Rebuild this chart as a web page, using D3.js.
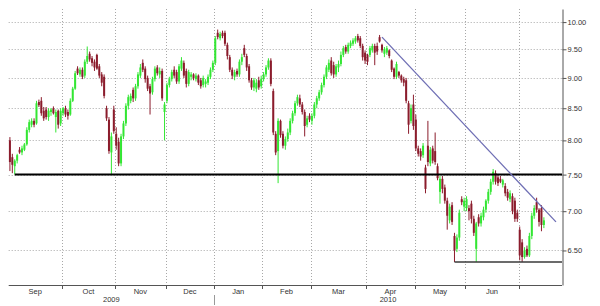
<!DOCTYPE html>
<html><head><meta charset="utf-8">
<script src="https://cdn.jsdelivr.net/npm/d3@7"></script>
<style>
html,body{margin:0;padding:0;background:#fff;}
svg{display:block;}
text{font-family:"Liberation Sans",Arial,sans-serif;}
</style></head>
<body><svg id="c" width="600" height="306"></svg>
<script>
// ---- calendar ----
const startDate = "2009-09-01", endDate = "2010-07-26";
const holidays = ["2009-12-24","2009-12-25","2009-12-31","2010-01-01","2010-04-02","2010-04-05"];
const monthLabels = ["Sep","Oct","Nov","Dec","Jan","Feb","Mar","Apr","May","Jun"];
const yearLabels = ["2009","2010"];
const priceTicks = [6.5,7.0,7.5,8.0,8.5,9.0,9.5,10.0];

// ---- OHLC (one value per trading day from 2009-09-01) ----
const open = [
8.00,7.75,7.62,7.70,7.86,7.82,7.86,7.94,8.16,8.24,8.30,8.26,8.60,8.62,8.46,8.48,8.36,8.44,8.50,8.36,8.46,8.26,
8.42,8.50,8.44,8.40,8.62,8.82,9.16,9.06,9.14,9.04,9.28,9.42,9.34,9.28,9.40,9.20,9.06,9.02,8.50,8.32,7.82,8.48,
8.10,7.98,7.66,8.06,8.26,8.54,8.62,8.80,8.66,8.86,9.04,9.26,9.16,9.00,8.86,8.76,8.98,9.18,9.06,9.12,8.44,
8.62,8.88,8.98,9.14,9.10,8.94,9.16,9.26,9.12,8.90,9.02,9.06,8.98,9.04,8.96,8.88,8.90,8.92,9.02,9.14,
9.26,9.80,9.70,9.80,9.80,9.58,9.36,9.14,9.02,9.12,9.06,9.28,9.52,9.38,9.20,8.96,8.84,8.82,8.96,8.86,
8.98,9.06,9.18,9.30,8.78,8.10,7.84,8.30,8.10,7.92,8.02,8.12,8.30,8.42,8.58,8.66,8.56,8.44,8.24,8.38,
8.30,8.38,8.56,8.66,8.76,8.88,9.02,9.14,9.30,9.22,9.06,9.18,9.24,9.40,9.54,9.46,9.56,9.60,9.64,9.74,9.70,9.56,9.44,
9.40,9.40,9.48,9.56,9.56,9.72,9.58,9.42,9.44,9.48,9.30,9.16,9.02,9.10,9.04,8.98,8.96,8.58,8.30,8.56,
8.32,7.88,7.84,7.78,7.60,7.92,7.66,7.88,7.84,7.62,7.26,7.44,7.32,7.14,6.88,7.08,6.68,6.52,6.66,7.16,7.06,
7.04,7.04,7.10,6.90,6.52,6.92,6.84,6.92,7.02,7.14,7.26,7.40,7.52,7.46,7.44,7.36,7.34,7.26,7.16,7.20,7.14,6.98,
6.76,6.60,6.42,6.52,6.44,6.68,6.94,7.12,7.02,7.04,6.82];
const high = [
8.05,7.80,7.72,7.80,7.90,7.92,7.96,8.20,8.32,8.34,8.34,8.62,8.64,8.68,8.52,8.52,8.50,8.50,8.53,8.48,8.48,8.50,
8.52,8.54,8.48,8.66,8.85,9.12,9.20,9.18,9.18,9.32,9.55,9.46,9.38,9.32,9.42,9.24,9.10,9.06,8.54,8.36,8.12,8.54,
8.20,8.04,8.10,8.30,8.58,8.72,8.74,8.84,8.90,9.10,9.24,9.32,9.20,9.04,8.90,9.02,9.20,9.22,9.18,9.16,8.60,
8.92,9.02,9.14,9.20,9.14,9.24,9.36,9.30,9.16,9.14,9.10,9.08,9.08,9.06,9.00,9.04,8.98,9.06,9.18,9.30,
9.74,9.86,9.82,9.84,9.84,9.62,9.40,9.18,9.14,9.16,9.32,9.42,9.58,9.42,9.24,9.00,9.00,8.98,9.02,9.04,
9.10,9.22,9.34,9.34,8.82,8.14,8.34,8.32,8.14,8.06,8.18,8.34,8.46,8.62,8.72,8.72,8.60,8.48,8.38,8.42,
8.42,8.60,8.70,8.80,8.92,9.06,9.22,9.32,9.36,9.28,9.24,9.30,9.46,9.56,9.58,9.62,9.66,9.70,9.74,9.78,9.74,9.60,9.48,
9.42,9.56,9.60,9.60,9.62,9.76,9.60,9.54,9.56,9.50,9.32,9.18,9.28,9.12,9.06,9.02,9.00,8.62,8.56,8.72,
8.40,7.92,7.88,7.96,7.64,8.30,7.90,7.92,8.12,7.66,7.48,7.48,7.36,7.18,7.10,7.12,6.72,6.70,7.02,7.20,7.18,
7.20,7.08,7.14,6.94,6.86,6.96,6.98,7.06,7.16,7.30,7.44,7.58,7.56,7.50,7.48,7.44,7.38,7.30,7.28,7.24,7.18,7.02,
6.80,6.64,6.54,6.56,6.72,6.98,7.08,7.18,7.04,7.08,6.92];
const low = [
7.55,7.52,7.50,7.66,7.80,7.78,7.84,7.92,8.12,8.20,8.20,8.24,8.52,8.38,8.30,8.32,8.30,8.38,8.40,8.12,8.18,8.22,
8.38,8.36,8.32,8.38,8.60,8.80,9.05,9.02,8.98,9.00,9.24,9.28,9.20,9.12,9.14,9.00,8.86,8.66,8.30,7.80,7.50,8.10,
7.86,7.62,7.62,8.02,8.22,8.48,8.58,8.60,8.62,8.82,9.00,9.10,8.92,8.78,8.40,8.72,8.94,9.04,9.00,8.62,8.00,
8.58,8.84,8.94,9.00,8.90,8.90,9.12,9.00,8.84,8.86,8.96,8.96,8.94,8.88,8.82,8.84,8.84,8.88,8.98,9.10,
9.22,9.68,9.66,9.70,9.56,9.32,9.10,8.98,8.96,9.02,9.02,9.22,9.36,9.12,8.92,8.80,8.78,8.76,8.80,8.82,
8.94,9.02,9.14,8.86,8.08,7.78,7.38,8.04,7.88,7.86,7.98,8.08,8.26,8.38,8.54,8.52,8.40,8.06,8.20,8.28,
8.24,8.34,8.50,8.62,8.72,8.84,8.98,9.10,9.04,9.00,9.02,9.10,9.20,9.36,9.42,9.42,9.52,9.56,9.60,9.62,9.52,9.30,9.24,
9.22,9.36,9.44,9.22,9.40,9.62,9.44,9.36,9.40,9.34,9.10,8.98,8.98,9.00,8.92,8.86,8.58,8.10,8.26,8.16,
7.84,7.76,7.70,7.74,7.24,7.62,7.62,7.66,7.64,7.42,7.10,7.24,7.10,6.76,6.84,6.82,6.36,6.48,6.62,7.08,7.00,
7.00,6.88,6.84,6.68,6.36,6.80,6.80,6.88,6.98,7.10,7.22,7.36,7.36,7.34,7.38,7.32,7.20,7.14,7.12,6.96,6.86,6.86,
6.38,6.36,6.40,6.42,6.42,6.64,6.90,6.98,6.80,6.74,6.78];
const close = [
7.68,7.64,7.70,7.78,7.82,7.88,7.94,8.16,8.28,8.30,8.24,8.58,8.55,8.42,8.34,8.36,8.46,8.48,8.42,8.44,8.24,8.46,
8.50,8.40,8.38,8.62,8.82,9.08,9.08,9.14,9.02,9.28,9.38,9.32,9.26,9.18,9.16,9.04,8.92,8.70,8.34,7.84,8.06,8.14,
7.92,7.66,8.06,8.26,8.54,8.68,8.70,8.66,8.86,9.06,9.18,9.14,8.98,8.82,8.74,8.98,9.16,9.08,9.12,8.66,8.56,
8.88,8.98,9.10,9.04,8.94,9.20,9.30,9.04,8.90,9.10,9.06,9.00,9.04,8.92,8.86,9.00,8.94,9.02,9.14,9.26,
9.70,9.72,9.78,9.74,9.60,9.38,9.14,9.04,9.10,9.06,9.28,9.36,9.40,9.18,8.96,8.84,8.96,8.92,8.84,8.98,
9.06,9.18,9.30,8.90,8.12,7.82,8.30,8.08,7.92,8.02,8.12,8.30,8.42,8.58,8.68,8.56,8.44,8.22,8.34,8.32,
8.38,8.56,8.66,8.76,8.88,9.02,9.18,9.26,9.08,9.06,9.20,9.24,9.40,9.52,9.46,9.58,9.62,9.66,9.70,9.66,9.56,9.36,9.30,
9.28,9.52,9.56,9.44,9.46,9.64,9.48,9.50,9.52,9.38,9.14,9.02,9.24,9.04,8.96,8.92,8.62,8.24,8.50,8.22,
7.88,7.80,7.76,7.92,7.30,7.68,7.86,7.70,7.68,7.45,7.44,7.30,7.14,6.94,7.06,6.86,6.50,6.66,6.98,7.12,7.14,
7.16,7.00,6.90,6.72,6.84,6.84,6.94,7.02,7.14,7.26,7.40,7.54,7.40,7.38,7.40,7.42,7.24,7.18,7.24,7.00,6.90,6.90,
6.44,6.42,6.50,6.44,6.68,6.94,7.04,7.02,6.86,6.82,6.88];

// ---- drawn studies ----
const supportLevel = 7.50, supportFrom = "2009-09-03";
const floorLevel = 6.36, floorFrom = "2010-05-25";
const trendFrom = ["2010-04-13", 9.72], trendTo = ["2010-07-22", 6.86];

// ---- build ----
const fmt = d3.timeFormat("%Y-%m-%d");
const parse = d3.timeParse("%Y-%m-%d");
const hol = new Set(holidays);
const days = d3.timeDay.range(parse(startDate), d3.timeDay.offset(parse(endDate),1))
  .filter(d => d.getDay() !== 0 && d.getDay() !== 6 && !hol.has(fmt(d)));
const keys = days.map(fmt);

const L = 8.7, R = 562, T = 9, B = 285;
const x = d3.scaleBand().domain(keys).range([L, R]).padding(0);
const bw = x.bandwidth();
const cx = k => x(k) + bw / 2;
const y = d3.scaleLog().domain([6.09, 10.25]).range([B, T]);

const svg = d3.select("#c");

// month boundaries
const monthStarts = [];
days.forEach((d, i) => { if (i > 0 && d.getMonth() !== days[i-1].getMonth()) monthStarts.push(keys[i]); });

const grid = svg.append("g").attr("stroke", "#a8a8a8").attr("stroke-width", 1).attr("stroke-dasharray", "1,2");
grid.selectAll("line.h").data(priceTicks).join("line").attr("class","h")
  .attr("x1", L).attr("x2", R).attr("y1", d => Math.round(y(d)) + 0.5).attr("y2", d => Math.round(y(d)) + 0.5);
grid.selectAll("line.v").data(monthStarts).join("line").attr("class","v")
  .attr("x1", d => Math.round(x(d)) + 0.5).attr("x2", d => Math.round(x(d)) + 0.5).attr("y1", T).attr("y2", B);

// candles
const data = open.map((o, i) => ({k: keys[i], o, h: high[i], l: low[i], c: close[i]}));
const up = "#33e633", dn = "#8b1c2c";
const cg = svg.append("g");
cg.selectAll("line").data(data).join("line")
  .attr("x1", d => cx(d.k)).attr("x2", d => cx(d.k))
  .attr("y1", d => y(d.h)).attr("y2", d => y(d.l))
  .attr("stroke", d => d.c >= d.o ? up : dn).attr("stroke-width", 1);
cg.selectAll("rect").data(data).join("rect")
  .attr("x", d => cx(d.k) - 1).attr("width", 2)
  .attr("y", d => y(Math.max(d.o, d.c)))
  .attr("height", d => Math.max(1, Math.abs(y(d.o) - y(d.c))))
  .attr("fill", d => d.c >= d.o ? up : dn);

// studies
svg.append("line").attr("x1", cx(supportFrom)).attr("x2", R)
  .attr("y1", y(supportLevel)).attr("y2", y(supportLevel))
  .attr("stroke", "#000").attr("stroke-width", 2);
svg.append("line").attr("x1", cx(floorFrom)).attr("x2", R)
  .attr("y1", y(floorLevel)).attr("y2", y(floorLevel))
  .attr("stroke", "#3a3a3a").attr("stroke-width", 1.5);
svg.append("line").attr("x1", cx(trendFrom[0])).attr("y1", y(trendFrom[1]))
  .attr("x2", cx(trendTo[0])).attr("y2", y(trendTo[1]))
  .attr("stroke", "#6e6eb4").attr("stroke-width", 1.3);

// right axis
const ra = svg.append("g").attr("transform", `translate(${R + 0.5},0)`)
  .call(d3.axisRight(y).tickValues(priceTicks).tickFormat(d3.format(".2f")).tickSize(4).tickSizeOuter(0));
ra.select(".domain").attr("stroke", "#555");
ra.selectAll(".tick line").attr("stroke", "#555");
ra.selectAll(".tick text").attr("font-family", "Liberation Sans, Arial, sans-serif")
  .attr("font-size", "7.5px").attr("fill", "#333").attr("x", 5);

// bottom axis
const ba = svg.append("g");
ba.append("line").attr("x1", L).attr("x2", R).attr("y1", B + 0.5).attr("y2", B + 0.5).attr("stroke", "#555");
ba.selectAll("line.t").data(monthStarts).join("line").attr("class","t")
  .attr("x1", d => Math.round(x(d)) + 0.5).attr("x2", d => Math.round(x(d)) + 0.5)
  .attr("y1", B).attr("y2", B + 4).attr("stroke", "#555");
const bounds = [keys[0]].concat(monthStarts);
const monthPos = monthLabels.map((m, i) => {
  const a = x(bounds[i]), b = x(bounds[i+1]);
  return {m, p: (a + b) / 2};
});
ba.selectAll("text.m").data(monthPos).join("text").attr("class","m")
  .attr("x", d => d.p).attr("y", 294).attr("text-anchor", "middle")
  .attr("font-size", "7.5px").attr("fill", "#333").text(d => d.m);
const janKey = monthStarts[3];
const yearPos = [(L + x(janKey)) / 2, (x(janKey) + R) / 2];
ba.selectAll("text.y").data(yearLabels).join("text").attr("class","y")
  .attr("x", (d, i) => yearPos[i]).attr("y", 302).attr("text-anchor", "middle")
  .attr("font-size", "7.5px").attr("fill", "#333").text(d => d);
ba.append("line").attr("x1", Math.round(x(janKey)) + 0.5).attr("x2", Math.round(x(janKey)) + 0.5)
  .attr("y1", 295).attr("y2", 305).attr("stroke", "#999");
</script></body></html>
